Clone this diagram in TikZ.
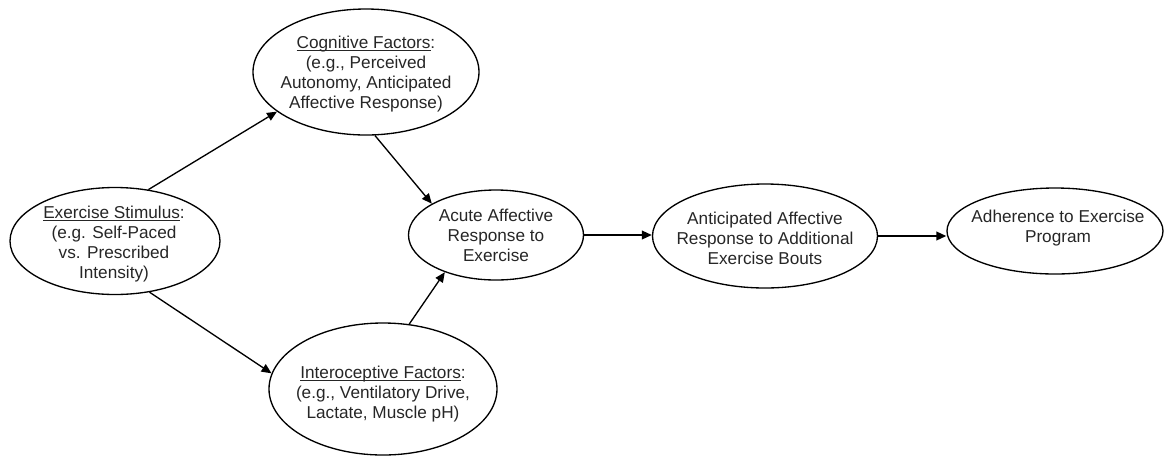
\documentclass[tikz,border=0pt]{standalone}
\usepackage{fontspec}
\setmainfont{Liberation Sans}
\usetikzlibrary{shapes.geometric,arrows.meta}
\newcommand{\undl}[1]{\setbox0\hbox{#1}\rlap{\rule[-1.8pt]{\wd0}{0.6pt}}\box0}
\begin{document}
\begin{tikzpicture}[x=0.75pt,y=-0.75pt,
  bubble/.style={draw,ellipse,line width=1pt,inner sep=0pt},
  txt/.style={align=center,inner sep=0pt,text=black!85,font=\fontsize{12.9}{15}\selectfont},
  link/.style={line width=1pt,-{Triangle[length=7.5pt,width=6.5pt]}}]
\useasboundingbox (0,0) rectangle (1165,455);
% ellipses
\node (stim) at (115,241) [bubble,minimum width=157.5pt,minimum height=80.25pt] {};
\node (cog) at (366,72) [bubble,minimum width=169.5pt,minimum height=94.5pt] {};
\node (intero) at (383,389) [bubble,minimum width=171pt,minimum height=99pt] {};
\node (acute) at (496,235) [bubble,minimum width=131.25pt,minimum height=67.5pt] {};
\node (antic) at (765,236) [bubble,minimum width=168.75pt,minimum height=78pt] {};
\node (adher) at (1055,231) [bubble,minimum width=162pt,minimum height=64.5pt] {};
% texts
\node (stimtxt) at (114,244) [txt] {\undl{Exercise Stimulus}:\\(e.g. Self-Paced\\vs. Prescribed\\Intensity)};
\node (cogtxt) at (366,74) [txt] {\undl{Cognitive Factors}:\\(e.g., Perceived\\Autonomy, Anticipated\\Affective Response)};
\node (interotxt) at (383,394) [txt] {\undl{Interoceptive Factors}:\\(e.g., Ventilatory Drive,\\Lactate, Muscle pH)};
\node (acutetxt) at (496,235) [txt] {Acute Affective\\Response to\\Exercise};
\node (antictxt) at (765,238) [txt] {Anticipated Affective\\Response to Additional\\Exercise Bouts};
\node (adhertxt) at (1058,228) [txt] {Adherence to Exercise\\Program};
% arrows
\draw[link] (stim.57) -- (cog.204);
\draw[link] (stim.304) -- (intero.172);
\draw[link] (cog.278) -- (acute.154);
\draw[link] (intero.68) -- (acute.216);
\draw[link,line width=1.4pt] (acute.east) -- (acute.east -| antic.west);
\draw[link,line width=1.4pt] (antic.east) -- (antic.east -| adher.west);
\end{tikzpicture}
\end{document}
